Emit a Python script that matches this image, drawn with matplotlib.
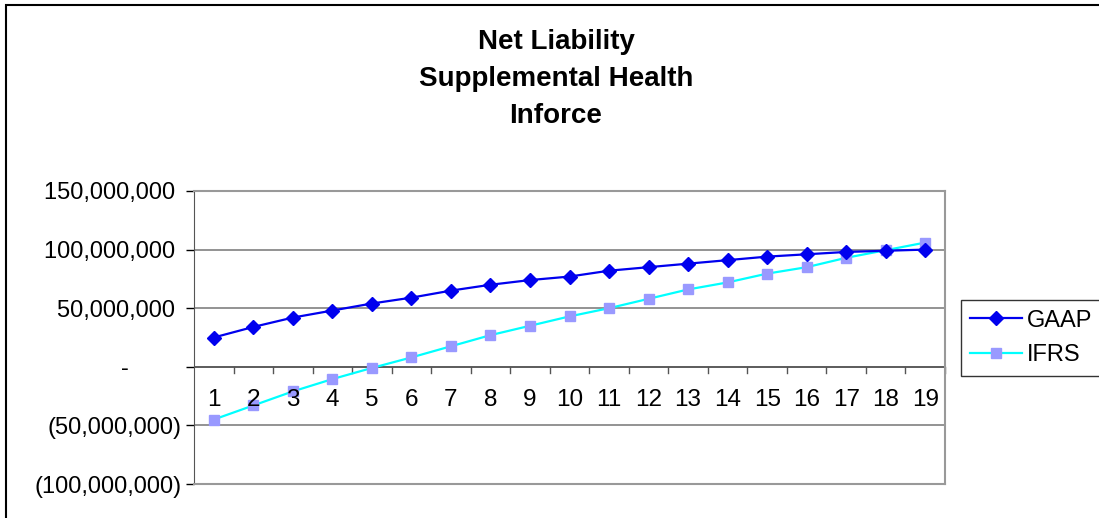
import matplotlib.pyplot as plt
from matplotlib.patches import Rectangle
from matplotlib.ticker import FuncFormatter

# data (millions)
years = list(range(1, 20))
gaap = [25, 34, 42, 48, 54, 59, 65, 70, 74, 77, 82, 85, 88, 91, 94, 96, 98, 99, 100]
ifrs = [-45, -33, -21, -10.5, -1, 8, 17.5, 27, 35, 43, 50, 58, 66, 72, 79.5, 85, 93, 99.5, 106]
yticks = [-100, -50, 0, 50, 100, 150]

plt.rcParams['font.family'] = ['Liberation Sans', 'DejaVu Sans']

W, H = 1099, 518
fig = plt.figure(figsize=(W / 100, H / 100), dpi=100)

# chart border (top and left visible)
fig.patches.append(Rectangle((6 / W, -0.1), 1.2, 1 - 5 / H + 0.1, transform=fig.transFigure,
                             fill=False, edgecolor='black', linewidth=1.5))

ax = fig.add_axes([194 / W, 1 - 484 / H, (945 - 194) / W, (484 - 191) / H])

ax.plot(years, [v * 1e6 for v in gaap], color='#0000ee', marker='D', markersize=7.5,
        linewidth=1.6, label='GAAP', zorder=4)
ax.plot(years, [v * 1e6 for v in ifrs], color='#00ffff', marker='s', markersize=7.5,
        markerfacecolor='#9999ff', markeredgecolor='#9999ff', linewidth=1.6,
        label='IFRS', zorder=3)

ax.set_xlim(0.5, 19.5)
ax.set_ylim(-100e6, 150e6)
ax.set_yticks([t * 1e6 for t in yticks])


def fmt(v, pos):
    m = int(round(v))
    if m == 0:
        return '-        '
    if m < 0:
        return '({:,})'.format(-m)
    return '{:,} '.format(m)


ax.yaxis.set_major_formatter(FuncFormatter(fmt))
ax.tick_params(axis='y', labelsize=17, length=6, direction='out', pad=3, width=1)
ax.grid(axis='y', color='#808080', linewidth=1.2)
ax.set_axisbelow(True)

for s in ['top', 'right', 'bottom']:
    ax.spines[s].set_color('#999999')
    ax.spines[s].set_linewidth(1.5)
ax.spines['left'].set_color('#555555')

# category axis at zero
ax.set_xticks([])
ax.axhline(0, color='#555555', linewidth=1.2, zorder=2)
for b in range(1, 20):
    ax.plot([b + 0.5, b + 0.5], [0, -5.5e6], color='#555555', linewidth=1, zorder=2,
            clip_on=False)
for x in years:
    ax.text(x, -28e6, str(x), ha='center', va='center', fontsize=17.5, zorder=5)

fig.text(556 / W, 1 - 79 / H, 'Net Liability\nSupplemental Health\nInforce', ha='center',
         va='center', fontsize=20, fontweight='bold', linespacing=1.56)

leg = fig.legend(loc='center', bbox_to_anchor=(1031 / W, 1 - 338 / H), fontsize=17,
                 frameon=True, fancybox=False, edgecolor='black', handlelength=2.2,
                 labelspacing=0.55, borderpad=0.4, handletextpad=0.2, borderaxespad=0)
leg.get_frame().set_linewidth(1)

fig.savefig('out.png', dpi=100)
